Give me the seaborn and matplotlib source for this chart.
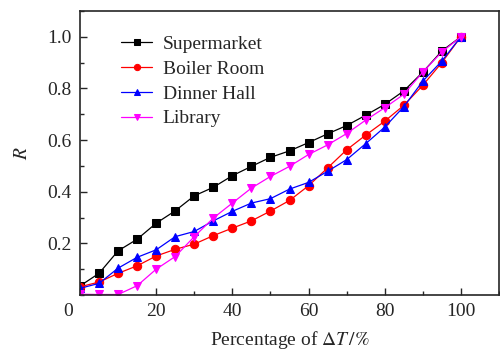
import matplotlib
matplotlib.use("Agg")
import matplotlib.pyplot as plt
from matplotlib.ticker import MultipleLocator
import matplotlib.transforms as mtransforms
import seaborn as sns
import pandas as pd

pct = [0, 5, 10, 15, 20, 25, 30, 35, 40, 45, 50, 55, 60, 65, 70, 75, 80, 85, 90, 95, 100]
supermarket = [0.035, 0.084, 0.171, 0.216, 0.278, 0.326, 0.384, 0.417, 0.462, 0.498, 0.533,
               0.558, 0.590, 0.624, 0.656, 0.696, 0.738, 0.790, 0.863, 0.945, 1.0]
boiler_room = [0.032, 0.050, 0.084, 0.113, 0.151, 0.177, 0.197, 0.230, 0.259, 0.287, 0.325,
               0.366, 0.423, 0.492, 0.562, 0.619, 0.673, 0.734, 0.812, 0.900, 1.0]
dinner_hall = [0.026, 0.045, 0.104, 0.146, 0.175, 0.226, 0.246, 0.287, 0.324, 0.356, 0.373,
               0.410, 0.436, 0.479, 0.524, 0.586, 0.650, 0.729, 0.828, 0.906, 1.0]
library = [0.003, 0.002, 0.002, 0.036, 0.100, 0.149, 0.226, 0.298, 0.356, 0.414, 0.459,
           0.498, 0.544, 0.581, 0.625, 0.677, 0.725, 0.777, 0.863, 0.941, 1.0]
series_names = ["Supermarket", "Boiler Room", "Dinner Hall", "Library"]
x_ticks = [0, 20, 40, 60, 80, 100]
y_ticks = [0.2, 0.4, 0.6, 0.8, 1.0]

sns.set_style("ticks")
plt.rcParams["font.family"] = ["Liberation Serif", "DejaVu Serif"]
plt.rcParams["mathtext.fontset"] = "stix"
plt.rcParams["font.size"] = 14

fig = plt.figure(figsize=(5.0, 3.51), dpi=100)
ax = fig.add_axes([0.16, 0.1595, 0.838, 0.8095])

values = [supermarket, boiler_room, dinner_hall, library]
colors = ["black", "red", "blue", "magenta"]
markers = ["s", "o", "^", "v"]
for name, vals, c, m in zip(series_names, values, colors, markers):
    df = pd.DataFrame({"pct": pct, "R": vals})
    sns.lineplot(data=df, x="pct", y="R", ax=ax, color=c, marker=m, markersize=6,
                 markeredgecolor=c, linewidth=0.9, label=name)

ax.set_xlim(0, 110)
ax.set_ylim(0, 1.1)
ax.set_xticks(x_ticks)
ax.set_yticks(y_ticks)
ax.set_yticklabels([f"{v:.1f}" for v in y_ticks])
ax.xaxis.set_minor_locator(MultipleLocator(10))
ax.yaxis.set_minor_locator(MultipleLocator(0.1))
ax.tick_params(which="both", direction="in", top=False, right=False, labelsize=14)
ax.tick_params(which="major", length=5, width=1)
ax.tick_params(which="minor", length=3, width=1)
ax.tick_params(axis="x", pad=6)
ax.tick_params(axis="y", pad=6)
for s in ax.spines.values():
    s.set_linewidth(1.2)

# shift the "0" x tick label left, as in the reference
lbl0 = ax.get_xticklabels()[0]
lbl0.set_transform(lbl0.get_transform() + mtransforms.ScaledTranslation(-12 / 100, 0, fig.dpi_scale_trans))

ax.set_xlabel(r"Percentage of $\Delta T\,/\%$", fontsize=14, labelpad=6)
ax.set_ylabel(r"$R$", fontsize=14, labelpad=12)

leg = ax.legend(loc="upper left", bbox_to_anchor=(0.098, 0.914), frameon=False, fontsize=14,
                handlelength=1.6, handletextpad=0.55, labelspacing=0.37, borderaxespad=0,
                borderpad=0, markerscale=0.75)

fig.savefig("out.png", dpi=100)
